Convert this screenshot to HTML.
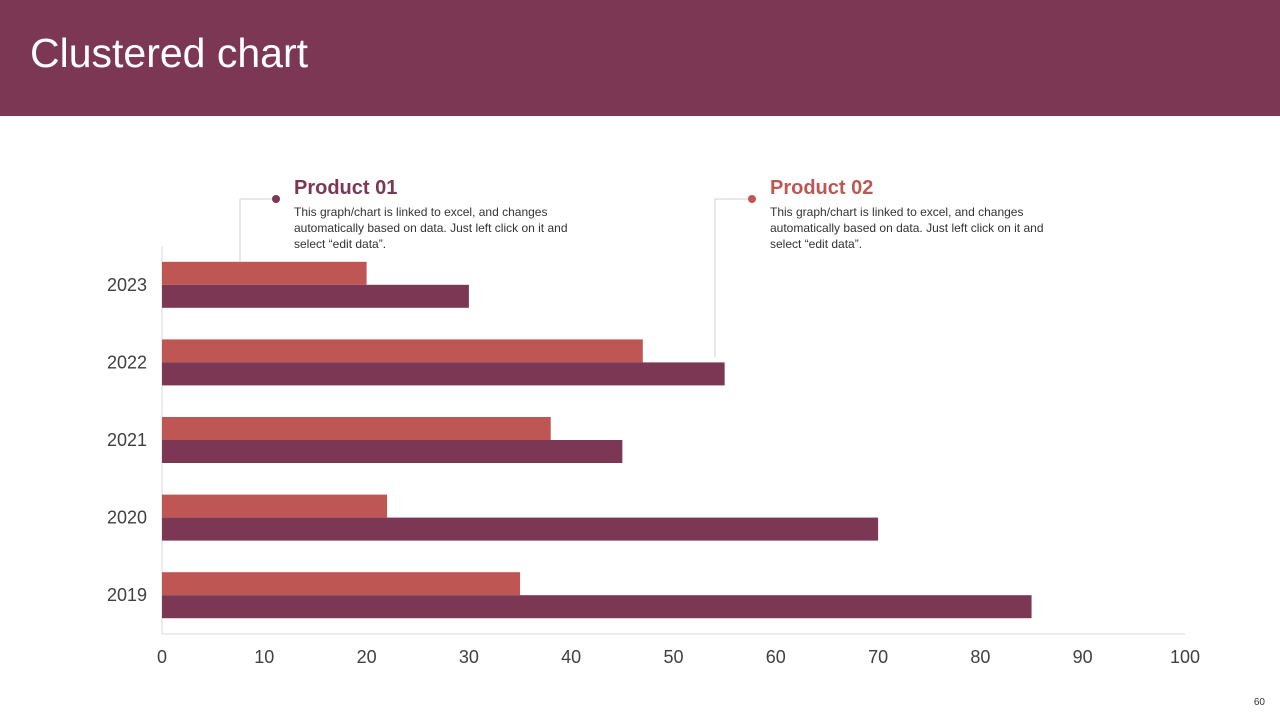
<!DOCTYPE html>
<html><head><meta charset="utf-8"><style>
body{margin:0;width:1280px;height:720px;background:#fff;font-family:"Liberation Sans",sans-serif;position:relative;overflow:hidden}
.hdr{position:absolute;left:0;top:0;width:1280px;height:116px;background:#7B3754}
.hdr h1{margin:0;position:absolute;left:30px;top:30px;font-weight:normal;font-size:41px;color:#fff}
.lg{position:absolute;width:305px}
.lg h2{margin:0;font-size:20px;font-weight:bold}
.lg p{margin:4px 0 0;font-size:12px;line-height:16px;color:#333}
.pn{position:absolute;right:15px;bottom:12px;font-size:10px;color:#333}
</style></head><body>
<div class="hdr"><h1>Clustered chart</h1></div>
<div class="lg" style="left:294px;top:177px"><h2 style="color:#7B3754">Product 01</h2><p>This graph/chart is linked to excel, and changes automatically based on data. Just left click on it and select “edit data”.</p></div>
<div class="lg" style="left:770px;top:177px"><h2 style="color:#BE5754">Product 02</h2><p>This graph/chart is linked to excel, and changes automatically based on data. Just left click on it and select “edit data”.</p></div>
<svg id="chart" width="1280" height="720" style="position:absolute;left:0;top:0"></svg>
<div class="pn">60</div>
<script>
const categories=["2019","2020","2021","2022","2023"];
const product01=[85,70,45,55,30];
const product02=[35,22,38,47,20];
const xTicks=[0,10,20,30,40,50,60,70,80,90,100];
const ns="http://www.w3.org/2000/svg",svg=document.getElementById("chart");
const x0=162,x1=1185,yTop=246,yBot=634;
const xs=v=>x0+(v/100)*(x1-x0);
const band=(yBot-yTop)/categories.length;
function el(t,a,p){const e=document.createElementNS(ns,t);for(const k in a)e.setAttribute(k,a[k]);(p||svg).appendChild(e);return e;}
const ax=el("line",{x1:x0,y1:yTop,x2:x0,y2:yBot,stroke:"#d9d9d9"});


const bx=el("line",{x1:x0,y1:yBot,x2:x1,y2:yBot,stroke:"#d9d9d9"});


xTicks.forEach(t=>{const e=el("text",{x:xs(t),y:663,"text-anchor":"middle","font-size":"18",fill:"#404040"});e.textContent=t;

});
categories.forEach((c,i)=>{
 const cy=yBot-band*(i+0.5);
 const b2=el("rect",{x:x0,y:cy-23,width:xs(product02[i])-x0,height:23,fill:"#BE5754"});
 
 
 const b1=el("rect",{x:x0,y:cy,width:xs(product01[i])-x0,height:23,fill:"#7B3754"});
 
 
 const t=el("text",{x:147,y:cy+6,"text-anchor":"end","font-size":"18",fill:"#404040"});t.textContent=c;
 
 
});
const c1=el("polyline",{points:`276,199 240,199 240,${yBot-band*4.5-23}`,fill:"none",stroke:"#d0d0d0"});


const d1=el("circle",{cx:276,cy:199,r:4,fill:"#7B3754"});


const c2=el("polyline",{points:`752,199 715,199 715,${yBot-band*3.5-5}`,fill:"none",stroke:"#d0d0d0"});


const d2=el("circle",{cx:752,cy:199,r:4,fill:"#BE5754"});


</script>
</body></html>
